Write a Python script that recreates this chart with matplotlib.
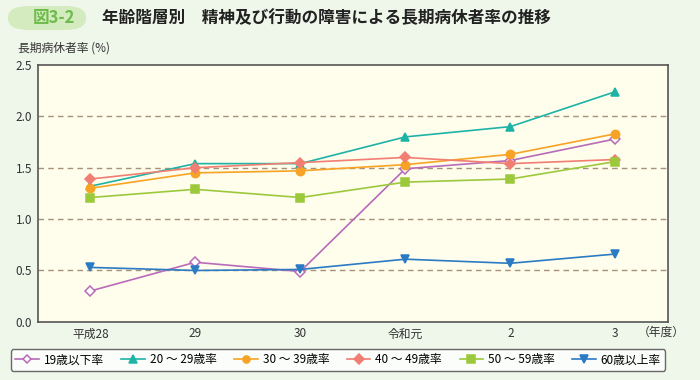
import matplotlib
matplotlib.use("Agg")
import matplotlib.pyplot as plt
from matplotlib.patches import FancyBboxPatch
import numpy as np

plt.rcParams['font.family'] = ['Noto Sans CJK JP', 'DejaVu Sans']

years = ["平成28", "29", "30", "令和元", "2", "3"]
labels = ["19歳以下率", "20 ～ 29歳率", "30 ～ 39歳率",
          "40 ～ 49歳率", "50 ～ 59歳率", "60歳以上率"]
u19 = [0.30, 0.58, 0.49, 1.49, 1.57, 1.78]
a20 = [1.32, 1.54, 1.54, 1.80, 1.90, 2.24]
a30 = [1.30, 1.45, 1.47, 1.53, 1.63, 1.83]
a40 = [1.39, 1.50, 1.55, 1.60, 1.54, 1.58]
a50 = [1.21, 1.29, 1.21, 1.36, 1.39, 1.56]
o60 = [0.53, 0.50, 0.51, 0.61, 0.57, 0.66]

series = [u19, a20, a30, a40, a50, o60]
colors = ["#B86BB8", "#1DB3A6", "#F7A325", "#F17E73", "#9CC93C", "#2B7BC4"]
markers = ["D", "^", "o", "D", "s", "v"]
msizes = [5, 6, 6, 5.5, 6, 6]

fig = plt.figure(figsize=(7, 3.8), dpi=100, facecolor="#EFF6EA")
ax = fig.add_axes([0.054, 0.153, 0.9, 0.676])
ax.set_facecolor("#FFFDEC")

x = np.arange(len(years))
for k, vals in enumerate(series):
    face = "white" if k == 0 else colors[k]
    ax.plot(x, vals, color=colors[k], marker=markers[k], markersize=msizes[k],
            markerfacecolor=face, markeredgecolor=colors[k],
            markeredgewidth=1.1, linewidth=1.2, label=labels[k], zorder=3)

for yv in [0.5, 1.0, 1.5, 2.0]:
    ax.axhline(yv, color="#A8917A", linestyle=(0, (4, 3)), linewidth=1.0, zorder=1)

ax.set_xlim(-0.5, 5.5)
ax.set_ylim(0, 2.5)
ax.set_xticks(x)
ax.set_xticklabels(years, fontsize=8.5)
ax.set_yticks([0, 0.5, 1.0, 1.5, 2.0, 2.5])
ax.set_yticklabels(["0.0", "0.5", "1.0", "1.5", "2.0", "2.5"], fontsize=8.5)
ax.tick_params(length=0, pad=4, colors="#333333")
for s in ax.spines.values():
    s.set_color("#555555")
    s.set_linewidth(1.2)

fig.text(18 / 700, 1 - 48 / 380, "長期病休者率 (%)", fontsize=8.5, va="center", color="#333333")
fig.text(638 / 700, 1 - 332 / 380, "（年度）", fontsize=8.5, va="center", color="#333333")

# title band
band = FancyBboxPatch((8 / 700, 1 - 30 / 380), 78 / 700, 24 / 380,
                      boxstyle="round,pad=0,rounding_size=0.03",
                      transform=fig.transFigure, facecolor="#D4EBC0",
                      edgecolor="none")
fig.patches.append(band)
fig.text(33 / 700, 1 - 18 / 380, "図3-2", fontsize=12, color="#6DBB4A",
         fontweight="bold", va="center")
fig.text(102 / 700, 1 - 18 / 380, "年齢階層別　精神及び行動の障害による長期病休者率の推移",
         fontsize=12, color="#222222", fontweight="bold", va="center")

leg = fig.legend(loc="center", bbox_to_anchor=(338 / 700, 1 - 360 / 380),
                 ncol=6, fontsize=8.5, frameon=True, handlelength=2.0,
                 columnspacing=1.5, handletextpad=0.4, borderpad=0.35,
                 markerscale=0.85, fancybox=True)
leg.get_frame().set_edgecolor("#444444")
leg.get_frame().set_facecolor("white")
leg.get_frame().set_linewidth(1.0)

fig.savefig("out.png", dpi=100, facecolor=fig.get_facecolor())
